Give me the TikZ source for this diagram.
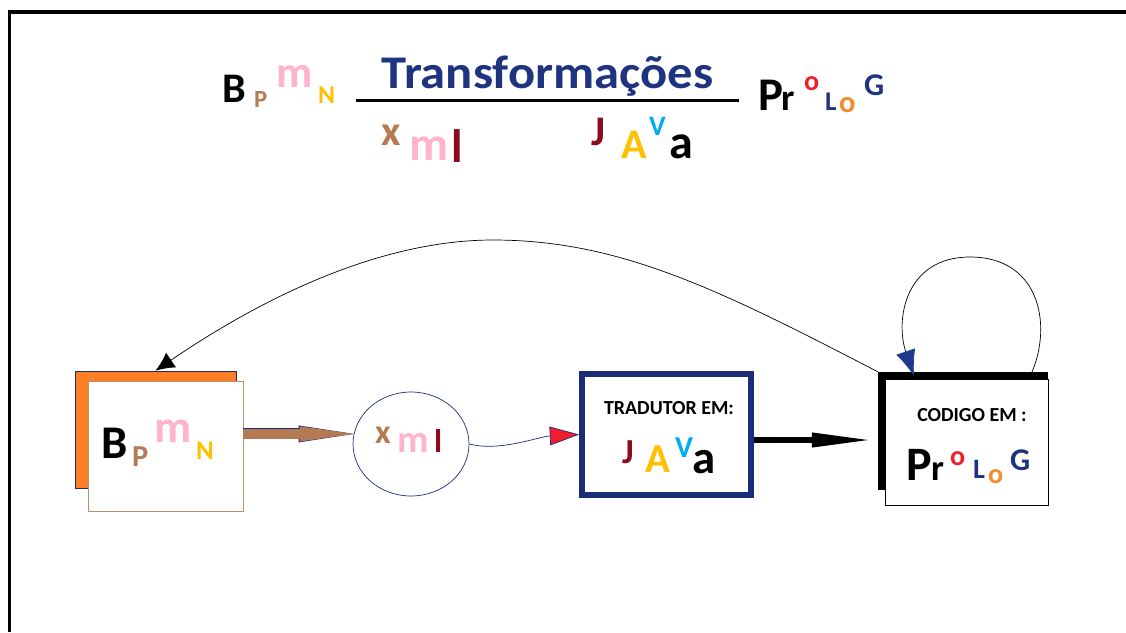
\documentclass[tikz,border=0pt]{standalone}
\usepackage{fontspec}
\setmainfont{Carlito}
\usetikzlibrary{positioning,shapes.geometric,arrows.meta}

\definecolor{lbrown}{HTML}{B57A52}
\definecolor{lpink}{HTML}{FFB3CC}
\definecolor{lgold}{HTML}{FFC000}
\definecolor{ldred}{HTML}{8C0B1F}
\definecolor{lsky}{HTML}{00AEEF}
\definecolor{lred}{HTML}{F01E2C}
\definecolor{lnavy}{HTML}{1F3480}
\definecolor{lorange}{HTML}{F58A2E}
\definecolor{boxorange}{HTML}{FD8027}
\definecolor{boxnavy}{HTML}{1C2D78}
\definecolor{loopnavy}{HTML}{1F3A8A}

\tikzset{
  letter/.style={inner sep=0pt, anchor=base west, font=\bfseries},
  label/.style={inner sep=0pt, font=\bfseries\fontsize{17}{17}\selectfont},
  brownarrow/.style={line width=8pt, draw=lbrown,
    -{Triangle[length=46pt,width=13pt,line width=0pt]},
    preaction={draw=boxnavy, line width=9.5pt, -{Triangle[length=47pt,width=14.5pt,line width=0pt]}}},
  wavearrow/.style={draw=boxnavy, line width=0.6pt, -{Triangle[length=25pt,width=16pt,fill=lred]}},
  blackarrow/.style={line width=5pt, -{Triangle[length=48pt,width=13pt,line width=0pt]}},
  thinarrow/.style={line width=0.6pt, -{Latex[length=16pt,width=15pt]}},
  loopline/.style={line width=0.6pt, -{Latex[length=22pt,width=17pt,color=loopnavy]}}
}

\begin{document}
\begin{tikzpicture}[x=0.03cm,y=-0.03cm]
		\useasboundingbox (0,0) rectangle (1126,632);
		
		% outer frame (left and top only)
		\draw[line width=3.4pt] (9.5,632) |- (1126,12);
		
		% title with its bar
		\node[letter, anchor=base, text=lnavy, font=\bfseries\fontsize{40}{40}\selectfont\addfontfeatures{FakeStretch=1.08}] (trans) at (547.5,88) {Transformações};
		\draw[line width=2.6pt] (356,100.5) -- (739,100.5);
		
		% the boxes of the chain
		\node[draw=boxnavy, line width=0.6pt, fill=boxorange, minimum width=4.83cm, minimum height=3.51cm, inner sep=0pt] (bpmnback) at (155.5,429.5) {};
		\node[draw=lbrown!85, line width=0.6pt, fill=white, minimum width=4.65cm, minimum height=3.9cm, inner sep=0pt] (bpmn) at (165.5,446.5) {};
		\node[ellipse, draw=boxnavy, line width=0.6pt, minimum width=3.48cm, minimum height=3.12cm, inner sep=0pt] (xml) at (411,444) {};
		\node[draw=boxnavy, line width=5pt, minimum width=5.07cm, minimum height=3.63cm, inner sep=0pt] (trad) at (666.5,434.5) {};
		\node[fill=black, minimum width=5.1cm, minimum height=3.54cm, inner sep=0pt] (codback) at (963,431) {};
		\node[draw=black, line width=0.8pt, fill=white, minimum width=4.89cm, minimum height=3.78cm, inner sep=0pt] (cod) at (966.5,442) {};
		
		% small captions in the boxes
		\node[label] (tradtxt) at (669,408.5) {TRADUTOR EM:};
		\node[label] (codtxt) at (972,415) {CODIGO EM :};
		
		% coloured letters: x/baseline/size/colour/letter
		\foreach \px/\py/\sz/\col/\ch [count=\i] in {
			222/102/36/black/B, 254/107/21/lbrown/P, 276/87/38/lpink/m, 318/103/22/lgold/N,
			381/145/36/lbrown/x, 409/160/41/lpink/m, 451/162/40/ldred/l,
			591/145/36/ldred/J, 621/158/36/lgold/A, 649/135/24/lsky/V, 669/158/41/black/a,
			758/110/40/black/P, 781/110/32/black/r, 804/90/24/lred/o, 825/110/23/lnavy/L, 839/112/26/lorange/o, 864/95/27/lnavy/G,
			101/458/40/black/B, 132/466/26/lbrown/P, 154/442/39/lpink/m, 196/459/23/lgold/N,
			375/443/29/lbrown/x, 397/452/33/lpink/m, 434/452/28/ldred/l,
			622/463/30/ldred/J, 645/472/35/lgold/A, 675/457/26/lsky/V, 692/473/40/black/a,
			906/480/41/black/P, 931/480/31/black/r, 950/465/24/lred/o, 973/478/24/lnavy/L, 988/483/24/lorange/o, 1010/470/27/lnavy/G} {
			\node[letter, text=\col, font=\bfseries\fontsize{\sz}{\sz}\selectfont] (lt\i) at (\px,\py) {\ch};
		}
		
		% arrows along the chain
		\draw[brownarrow] (bpmn.east |- xml.170) -- (xml.170);
		\draw[wavearrow] (xml.east) .. controls +(30,8) and +(-40,2) .. (trad.west);
		\coordinate (codin) at (868,440);
		\draw[blackarrow] (trad.east |- codin) -- (codin);
		
		% long way back from the code to the model
		\coordinate (arcpeak) at (493,240);
		\draw[thinarrow] (codback.north west) .. controls (720,290) and (620,240) .. (arcpeak) .. controls (360,240) and (230,320) .. (bpmnback.north);
		
		% loop on the code box
		\coordinate (loopout) at (1032,372);
		\coordinate (looptop) at (970,257);
		\coordinate (loopin) at (914,376);
		\draw[loopline] (loopout) .. controls (1052,325) and (1040,257) .. (looptop) .. controls (905,257) and (895,320) .. (loopin);
\end{tikzpicture}
\end{document}
